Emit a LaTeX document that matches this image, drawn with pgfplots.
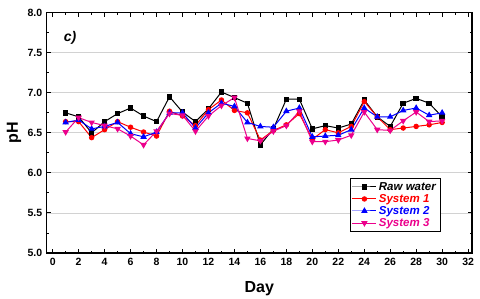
\documentclass[border=0pt]{standalone}
\usepackage{fontspec}
\setmainfont{Liberation Sans}
\usepackage{pgfplots}
\pgfplotsset{compat=1.18}
\definecolor{gridgray}{RGB}{210,210,210}
\begin{document}
\begin{tikzpicture}
\begin{axis}[
  at={(0,0)}, anchor=south west,
  scale only axis, width=425.3pt, height=240.3pt,
  xmin=-0.46, xmax=32.3, ymin=5, ymax=8,
  xtick={0,2,...,32}, minor xtick={1,3,...,31},
  ytick={5,5.5,...,8}, minor ytick={5.25,5.75,...,7.75},
  tick align=inside,
  major tick length=4pt, minor tick length=2.2pt,
  every tick/.style={black, line width=0.9pt},
  axis line style={line width=1.3pt},
  ymajorgrids, major grid style={gridgray, line width=0.8pt},
  /pgf/number format/assume math mode=true,
  yticklabel style={/pgf/number format/fixed, /pgf/number format/fixed zerofill, /pgf/number format/precision=1, xshift=-1pt},
  ticklabel style={font=\bfseries\fontsize{10.5}{12}\selectfont},
  xticklabel style={yshift=-2pt},
  xlabel={Day}, ylabel={pH},
  every axis x label/.style={at={(axis description cs:0.5,-0.148)}, anchor=center, font=\bfseries\fontsize{16}{18}\selectfont},
  every axis y label/.style={at={(axis description cs:-0.077,0.5)}, anchor=center, rotate=90, font=\bfseries\fontsize{16}{18}\selectfont},
  legend style={at={(axis description cs:0.925,0.087)}, anchor=south east, draw=black, line width=0.6pt,
    font=\bfseries\itshape\fontsize{11.5}{13}\selectfont, row sep=-1.5pt, inner sep=2pt},
  legend cell align=left,
  every axis plot/.append style={legend image code/.code={\draw[mark repeat=2,mark phase=2,line width=1pt] plot coordinates {(0pt,0pt)(12pt,0pt)(24pt,0pt)};}},
]
\addplot[black, line width=1pt, mark=square*, mark size=2.2pt] coordinates {
(1,6.75)(2,6.70)(3,6.50)(4,6.64)(5,6.74)(6,6.81)(7,6.71)(8,6.64)(9,6.95)(10,6.76)
(11,6.64)(12,6.80)(13,7.01)(14,6.94)(15,6.87)(16,6.35)(17,6.55)(18,6.92)(19,6.92)(20,6.55)
(21,6.59)(22,6.56)(23,6.61)(24,6.91)(25,6.70)(26,6.58)(27,6.87)(28,6.93)(29,6.87)(30,6.70)};
\addlegendentry[text=black]{Raw water}
\addplot[red, line width=1pt, mark=*, mark size=2.2pt] coordinates {
(1,6.64)(2,6.64)(3,6.44)(4,6.54)(5,6.64)(6,6.57)(7,6.51)(8,6.46)(9,6.77)(10,6.71)
(11,6.59)(12,6.79)(13,6.91)(14,6.78)(15,6.75)(16,6.41)(17,6.53)(18,6.60)(19,6.74)(20,6.42)
(21,6.54)(22,6.50)(23,6.58)(24,6.89)(25,6.70)(26,6.54)(27,6.56)(28,6.58)(29,6.60)(30,6.63)};
\addlegendentry[text=red]{System 1}
\addplot[blue, line width=1pt, mark=triangle*, mark size=2.8pt] coordinates {
(1,6.63)(2,6.66)(3,6.55)(4,6.58)(5,6.63)(6,6.49)(7,6.45)(8,6.51)(9,6.75)(10,6.75)
(11,6.56)(12,6.75)(13,6.87)(14,6.83)(15,6.63)(16,6.58)(17,6.57)(18,6.77)(19,6.81)(20,6.45)
(21,6.46)(22,6.47)(23,6.54)(24,6.81)(25,6.70)(26,6.70)(27,6.78)(28,6.81)(29,6.72)(30,6.75)};
\addlegendentry[text=blue]{System 2}
\addplot[magenta, line width=1pt, mark=triangle*, mark options={rotate=180}, mark size=2.8pt] coordinates {
(1,6.51)(2,6.69)(3,6.63)(4,6.59)(5,6.55)(6,6.46)(7,6.35)(8,6.52)(9,6.74)(10,6.72)
(11,6.52)(12,6.71)(13,6.84)(14,6.94)(15,6.43)(16,6.40)(17,6.52)(18,6.59)(19,6.77)(20,6.39)
(21,6.39)(22,6.41)(23,6.47)(24,6.76)(25,6.54)(26,6.53)(27,6.65)(28,6.76)(29,6.64)(30,6.65)};
\addlegendentry[text=magenta]{System 3}
\node[font=\bfseries\itshape\fontsize{14}{16}\selectfont] at (axis description cs:0.055,0.897) {c)};
\end{axis}
\pgfresetboundingbox
\path[use as bounding box] (-46.7pt,-46pt) rectangle (433.3pt,253pt);
\end{tikzpicture}
\end{document}
